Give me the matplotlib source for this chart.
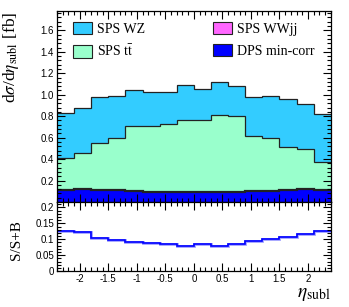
import numpy as np
import matplotlib
matplotlib.use('Agg')
import matplotlib.pyplot as plt
from matplotlib.patches import Patch
from matplotlib.ticker import MultipleLocator, FixedLocator, FuncFormatter

# eta_subl bins
edges = [-2.4, -2.1, -1.8, -1.5, -1.2, -0.9, -0.6, -0.3, 0.0,
         0.3, 0.6, 0.9, 1.2, 1.5, 1.8, 2.1, 2.4]

# stacked contributions [fb], bottom to top
dps = [0.114, 0.120, 0.115, 0.108, 0.104, 0.097, 0.095, 0.094,
       0.092, 0.092, 0.095, 0.100, 0.105, 0.112, 0.118, 0.112]
wwjj = [0.004] * 16
ttbar = [0.288, 0.332, 0.431, 0.488, 0.596, 0.603, 0.628, 0.666,
         0.664, 0.714, 0.701, 0.514, 0.487, 0.396, 0.371, 0.256]
wz = [0.424, 0.420, 0.430, 0.384, 0.336, 0.326, 0.303, 0.323,
      0.293, 0.308, 0.284, 0.361, 0.388, 0.448, 0.420, 0.448]

# S/S+B
ratio = [0.125, 0.122, 0.104, 0.099, 0.0905, 0.087, 0.086, 0.080,
         0.085, 0.080, 0.084, 0.096, 0.101, 0.108, 0.118, 0.126]

labels = ['SPS WZ', r'SPS t$\bar{\mathrm{t}}$', 'SPS WWjj', 'DPS min-corr']
colors = ['#33ccff', '#99ffcc', '#ff66ff', '#0000ff']

plt.rcParams['mathtext.fontset'] = 'stix'
tickfont = 'Liberation Sans'
serif = 'Liberation Serif'

fig = plt.figure(figsize=(3.49, 3.07), dpi=100)
ax = fig.add_axes([0.163, 0.342, 0.785, 0.622])
ax2 = fig.add_axes([0.163, 0.117, 0.785, 0.225])

# filled stack
base = np.zeros(len(dps))
tops = []
for vals, col in [(dps, colors[3]), (wwjj, colors[2]), (ttbar, colors[1]), (wz, colors[0])]:
    top = base + np.array(vals)
    ax.stairs(top, edges, baseline=base, fill=True, color=col, lw=0)
    tops.append(top)
    base = top
for top, lw in zip(tops, [1.6, 0.6, 0.9, 0.9]):
    ax.stairs(top, edges, baseline=None, color='#222222', lw=lw)

ax.set_xlim(-2.4, 2.4)
ax.set_ylim(0, 1.78)
ax.yaxis.set_major_locator(FixedLocator([0.2, 0.4, 0.6, 0.8, 1.0, 1.2, 1.4, 1.6]))
ax.yaxis.set_major_formatter(FuncFormatter(lambda v, p: '%.1f' % v))
ax.yaxis.set_minor_locator(MultipleLocator(0.04))
ax.xaxis.set_major_locator(MultipleLocator(0.5))
ax.xaxis.set_minor_locator(MultipleLocator(0.1))
ax.tick_params(labelbottom=False)

# ratio panel
ax2.stairs(ratio, edges, baseline=None, color='#a0a0ff', lw=2.0)
ax2.stairs(ratio, edges, baseline=None, color='#0000ff', lw=1.2)
ax2.set_xlim(-2.4, 2.4)
ax2.set_ylim(0, 0.217)
ax2.yaxis.set_major_locator(MultipleLocator(0.05))
ax2.yaxis.set_minor_locator(MultipleLocator(0.01))
ax2.xaxis.set_major_locator(MultipleLocator(0.5))
ax2.xaxis.set_minor_locator(MultipleLocator(0.1))
fmt = FuncFormatter(lambda v, p: '%g' % round(v, 3))
ax2.yaxis.set_major_formatter(fmt)
ax2.xaxis.set_major_formatter(fmt)

for a in (ax, ax2):
    a.tick_params(which='both', direction='in', top=True, right=True, width=0.8)
    a.tick_params(which='major', length=5.5, labelsize=7, pad=2)
    a.tick_params(which='minor', length=2.8)
    for lab in a.get_xticklabels() + a.get_yticklabels():
        lab.set_family(tickfont)
    for s in a.spines.values():
        s.set_linewidth(0.9)

ax.set_ylabel(r'd$\sigma$/d$\eta_{\mathrm{subl}}$ [fb]', family=serif, fontsize=12.5, loc='top')
ax.yaxis.set_label_coords(-0.13, 0.995)
ax2.set_ylabel('S/S+B', family=serif, fontsize=11)
ax2.yaxis.set_label_coords(-0.125, 0.45)
ax2.set_xlabel(r'$\eta_{\mathrm{subl}}$', fontsize=14, loc='right')
ax2.xaxis.set_label_coords(1.0, -0.19)

handles = [Patch(facecolor=c, edgecolor='#222222', lw=0.8) for c in colors]
legkw = dict(frameon=False, prop={'family': serif, 'size': 10}, handlelength=1.35,
             handleheight=1.0, labelspacing=0.6, handletextpad=0.4,
             borderpad=0, borderaxespad=0, loc='upper left')
leg1 = ax.legend(handles[:2], labels[:2], bbox_to_anchor=(0.058, 0.945), **legkw)
ax.add_artist(leg1)
ax.legend(handles[2:], labels[2:], bbox_to_anchor=(0.569, 0.945), **legkw)

fig.savefig('out.png', dpi=100)
